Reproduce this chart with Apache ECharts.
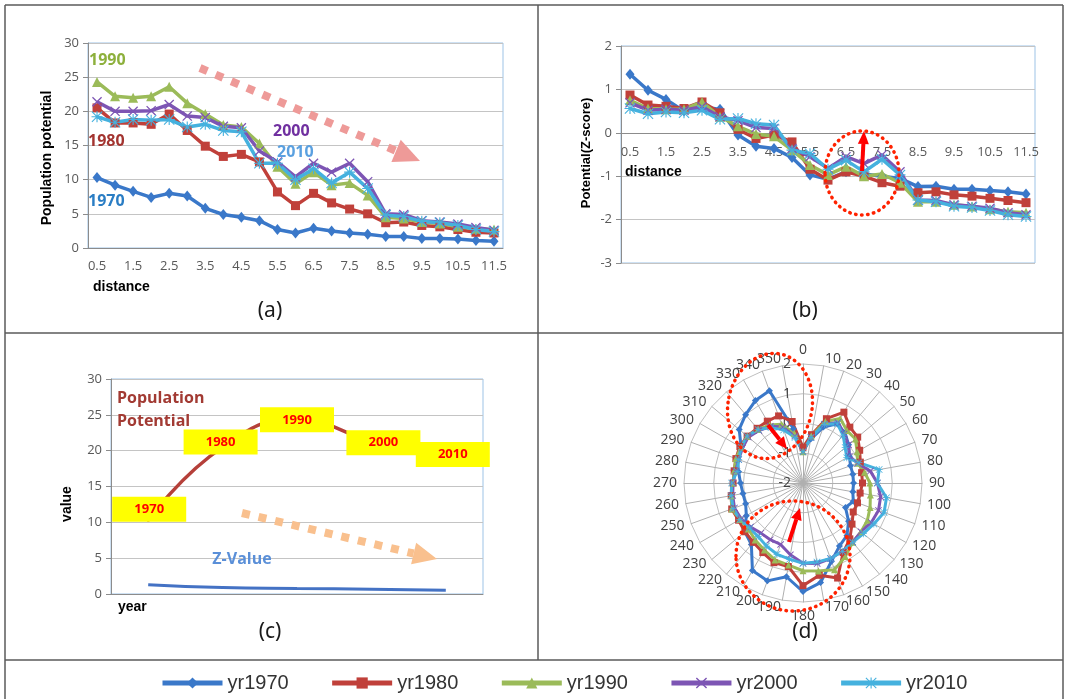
<!DOCTYPE html>
<html>
<head>
<meta charset="utf-8">
<script src="https://cdn.jsdelivr.net/npm/echarts@6/dist/echarts.min.js"></script>
<style>
html, body { margin: 0; padding: 0; background: #fff; }
#chart { width: 1068px; height: 699px; }
</style>
</head>
<body>
<div id="chart"></div>
<script>
// ---- data ----
var distances = ['0.5','1','1.5','2','2.5','3','3.5','4','4.5','5','5.5','6','6.5','7','7.5','8','8.5','9','9.5','10','10.5','11','11.5'];

// (a) population potential by distance
var pot1970 = [10.3, 9.2, 8.3, 7.4, 8.0, 7.6, 5.8, 4.9, 4.5, 4.0, 2.7, 2.2, 2.9, 2.5, 2.2, 2.0, 1.7, 1.7, 1.4, 1.4, 1.3, 1.1, 1.0];
var pot1980 = [20.5, 18.3, 18.3, 18.1, 19.6, 17.2, 14.9, 13.4, 13.7, 12.6, 8.2, 6.2, 8.0, 6.6, 5.7, 5.0, 3.7, 3.8, 3.3, 3.1, 2.7, 2.3, 2.2];
var pot1990 = [24.3, 22.2, 22.0, 22.2, 23.6, 21.2, 19.6, 18.0, 17.7, 15.3, 11.9, 9.4, 11.1, 9.2, 9.5, 7.7, 4.5, 4.3, 3.8, 3.6, 3.1, 2.8, 2.7];
var pot2000 = [21.4, 20.0, 20.0, 20.1, 21.0, 19.3, 19.1, 17.8, 17.6, 14.2, 12.6, 10.4, 12.4, 11.1, 12.4, 9.7, 5.0, 4.9, 4.0, 3.8, 3.5, 3.0, 2.6];
var pot2010 = [19.2, 18.4, 18.8, 18.7, 18.8, 17.7, 18.1, 17.2, 17.0, 12.4, 12.4, 10.0, 11.6, 9.5, 11.1, 8.7, 4.8, 4.6, 3.9, 3.7, 3.3, 2.7, 2.4];

// (b) z-scores by distance
var z1970 = [1.35, 0.98, 0.77, 0.5, 0.6, 0.54, -0.05, -0.31, -0.36, -0.57, -0.97, -1.07, -0.9, -0.95, -1.0, -1.05, -1.24, -1.23, -1.3, -1.3, -1.33, -1.36, -1.41];
var z1980 = [0.87, 0.64, 0.61, 0.56, 0.71, 0.46, 0.08, -0.13, -0.05, -0.21, -0.84, -1.09, -0.9, -1.0, -1.15, -1.23, -1.38, -1.36, -1.43, -1.46, -1.51, -1.56, -1.61];
var z1990 = [0.75, 0.56, 0.54, 0.54, 0.71, 0.37, 0.15, -0.03, -0.08, -0.4, -0.74, -0.97, -0.78, -1.0, -0.95, -1.15, -1.59, -1.59, -1.66, -1.7, -1.76, -1.82, -1.84];
var z2000 = [0.69, 0.52, 0.54, 0.52, 0.6, 0.37, 0.28, 0.12, 0.1, -0.36, -0.55, -0.82, -0.55, -0.71, -0.51, -0.9, -1.55, -1.56, -1.66, -1.69, -1.74, -1.84, -1.89];
var z2010 = [0.56, 0.44, 0.48, 0.46, 0.52, 0.31, 0.33, 0.21, 0.18, -0.4, -0.48, -0.84, -0.63, -0.9, -0.61, -0.97, -1.55, -1.59, -1.69, -1.72, -1.79, -1.89, -1.93];

// (c) by year
var years = ['1970', '1980', '1990', '2000', '2010'];
var yearPotential = [10.3, 20.5, 24.3, 21.4, 19.2];
var yearZ = [1.3, 0.9, 0.78, 0.68, 0.52];

// (d) z-score by direction (degrees)
var directions = ['0','10','20','30','40','50','60','70','80','90','100','110','120','130','140','150','160','170','180','190','200','210','220','230','240','250','260','270','280','290','300','310','320','330','340','350'];
var dir1970 = [-0.85, -0.5, 0.0, 0.3, 0.2, 0.0, -0.2, -0.3, -0.3, -0.3, -0.3, -0.2, -0.35, 0.0, 0.3, 0.45, 0.8, 1.4, 1.65, 1.2, 1.5, 1.4, 0.7, 0.55, 0.2, 0.05, 0.05, 0.1, 0.2, 0.35, 0.4, 0.8, 1.0, 1.2, 1.3, -0.15];
var dir1980 = [-0.8, -0.35, 0.3, 0.75, 0.45, 0.4, 0.2, 0.05, 0.0, 0.0, -0.05, -0.05, -0.05, 0.15, 0.45, 0.7, 1.4, 1.15, 1.45, 0.85, 0.85, 0.7, 0.6, 0.55, 0.5, 0.55, 0.45, 0.35, 0.35, 0.4, 0.45, 0.45, 0.4, 0.4, 0.4, 0.1];
var dir1990 = [-0.95, -0.4, 0.2, 0.5, 0.3, 0.3, 0.1, -0.05, 0.1, 0.25, 0.3, 0.4, 0.5, 0.55, 0.6, 0.85, 1.1, 1.0, 0.95, 0.8, 0.75, 0.6, 0.5, 0.4, 0.45, 0.55, 0.45, 0.35, 0.35, 0.4, 0.4, 0.45, 0.35, 0.25, 0.1, -0.3];
var dir2000 = [-0.95, -0.45, 0.1, 0.35, 0.15, 0.0, -0.2, -0.05, 0.3, 0.5, 0.65, 0.7, 0.65, 0.55, 0.6, 0.65, 0.7, 0.75, 0.7, 0.45, 0.2, 0.2, 0.2, 0.3, 0.4, 0.45, 0.4, 0.35, 0.3, 0.3, 0.35, 0.4, 0.3, 0.2, 0.0, -0.4];
var dir2010 = [-0.95, -0.45, 0.1, 0.3, 0.1, -0.15, -0.3, 0.0, 0.6, 0.5, 0.85, 0.9, 0.75, 0.65, 0.6, 0.65, 0.7, 0.7, 0.7, 0.6, 0.55, 0.45, 0.35, 0.35, 0.45, 0.5, 0.45, 0.4, 0.25, 0.3, 0.4, 0.45, 0.35, 0.15, -0.1, -0.45];

// ---- styling ----
var names = ['yr1970', 'yr1980', 'yr1990', 'yr2000', 'yr2010'];
var colors = ['#3A78C9', '#C0403A', '#9BBB59', '#7D55B4', '#45B1DE'];
var X_PATH = 'path://M0.9,0L10,9.1L9.1,10L0,0.9ZM9.1,0L10,0.9L0.9,10L0,9.1Z';
var STAR_PATH = 'path://M4.5,0L5.5,0L5.5,10L4.5,10ZM0,4.5L10,4.5L10,5.5L0,5.5ZM0.7,0L10,9.3L9.3,10L0,0.7ZM9.3,0L10,0.7L0.7,10L0,9.3Z';
var symbols = ['diamond', 'rect', 'triangle', X_PATH, STAR_PATH];
var symbolSizes = [[9, 11], 9, 10, 10, 11];
var potSets = [pot1970, pot1980, pot1990, pot2000, pot2010];
var zSets = [z1970, z1980, z1990, z2000, z2010];
var dirSets = [dir1970, dir1980, dir1990, dir2000, dir2010];
var LABEL_NUDGE = [[1, -11], [-2, -5], [0, 0], [12, 2], [7, -2]];

var TICK = { color: '#595959', fontSize: 13, fontFamily: 'Open Sans' };
var AXIS_GRAY = '#8C8C8C';
var GRID_GRAY = '#C4C4C4';

function catAxis(gi, data, labelShow, margin, offset) {
	return {
		gridIndex: gi, type: 'category', data: data, boundaryGap: true, offset: offset || 0,
		axisLine: { onZero: false, lineStyle: { color: AXIS_GRAY } },
		axisTick: { interval: 0, length: 5, lineStyle: { color: AXIS_GRAY } },
		axisLabel: Object.assign({ show: labelShow, interval: 1, margin: margin }, TICK),
		splitLine: { show: false }
	};
}
function valAxis(gi, min, max, step) {
	return {
		gridIndex: gi, type: 'value', min: min, max: max, interval: step,
		axisLine: { show: true, lineStyle: { color: AXIS_GRAY } },
		axisTick: { show: true, length: 5, lineStyle: { color: AXIS_GRAY } },
		axisLabel: Object.assign({ margin: 9 }, TICK),
		splitLine: { lineStyle: { color: GRID_GRAY } }
	};
}

var series = [];
names.forEach(function (n, i) {
	series.push({
		name: n, type: 'line', xAxisIndex: 0, yAxisIndex: 0, data: potSets[i],
		symbol: symbols[i], symbolSize: symbolSizes[i],
		lineStyle: { width: 3.5, color: colors[i] }, itemStyle: { color: colors[i] }
	});
});
names.forEach(function (n, i) {
	series.push({
		name: n, type: 'line', xAxisIndex: 1, yAxisIndex: 1, data: zSets[i],
		symbol: symbols[i], symbolSize: symbolSizes[i],
		lineStyle: { width: 3.5, color: colors[i] }, itemStyle: { color: colors[i] }
	});
});
series.push({
	name: 'Population Potential', type: 'line', xAxisIndex: 2, yAxisIndex: 2, smooth: true,
	showSymbol: true, symbol: 'circle', symbolSize: 3,
	lineStyle: { width: 3.5, color: '#B5403A' }, itemStyle: { color: '#B5403A' },
	data: yearPotential.map(function (v, i) {
		return { value: v, label: { offset: LABEL_NUDGE[i] } };
	}),
	label: {
		show: true, position: 'inside', formatter: function (p) { return p.name; },
		backgroundColor: '#FFFF00', color: '#FF0000', fontWeight: 'bold', fontSize: 13,
		fontFamily: 'Open Sans', width: 74, height: 25, lineHeight: 25, align: 'center'
	},
	z: 5
});
series.push({
	name: 'Z-Value', type: 'line', xAxisIndex: 2, yAxisIndex: 2, smooth: true,
	symbol: 'none', lineStyle: { width: 3, color: '#4472C4' }, data: yearZ
});

// radar runs counter-clockwise, so feed directions in reverse to get a clockwise compass
var order = [0];
for (var k = directions.length - 1; k >= 1; k--) order.push(k);
var indicator = order.map(function (i) { return { name: directions[i], min: -2, max: 2 }; });
indicator[0].axisLabel = { show: true, color: '#404040', fontSize: 14, fontFamily: 'Open Sans', margin: 12 };

names.forEach(function (n, i) {
	series.push({
		name: n, type: 'radar', radarIndex: 0,
		symbol: symbols[i], symbolSize: 7,
		lineStyle: { width: 3, color: colors[i] }, itemStyle: { color: colors[i] },
		data: [{ name: n, value: order.map(function (j) { return dirSets[i][j]; }) }]
	});
});

// ---- annotations ----
function arrow(x1, y1, x2, y2, color, width, headLen, headHalf, dash) {
	var dx = x2 - x1, dy = y2 - y1, len = Math.sqrt(dx * dx + dy * dy);
	var ux = dx / len, uy = dy / len;
	var bx = x2 - ux * headLen, by = y2 - uy * headLen;
	return [
		{ type: 'line', z: 100, shape: { x1: x1, y1: y1, x2: bx, y2: by },
		  style: { stroke: color, lineWidth: width, lineDash: dash || null } },
		{ type: 'polygon', z: 100,
		  shape: { points: [[x2, y2], [bx - uy * headHalf, by + ux * headHalf], [bx + uy * headHalf, by - ux * headHalf]] },
		  style: { fill: color } }
	];
}
function txt(x, y, s, font, fill, align, rot) {
	return { type: 'text', x: x, y: y, rotation: rot || 0, z: 100,
		style: { text: s, font: font, fill: fill, align: align || 'left', verticalAlign: 'middle' } };
}
function rule(x1, y1, x2, y2) {
	return { type: 'line', z: 100, shape: { x1: x1, y1: y1, x2: x2, y2: y2 }, style: { stroke: '#5A5A5A', lineWidth: 1.5 } };
}
function dotted(cx, cy, rx, ry, rot) {
	return { type: 'ellipse', x: cx, y: cy, rotation: rot || 0, z: 100,
		shape: { cx: 0, cy: 0, rx: rx, ry: ry },
		style: { fill: 'none', stroke: '#FF2200', lineWidth: 3.5, lineDash: [0.5, 5.5], lineCap: 'round' } };
}

var BOLD = 'bold 14px "Liberation Sans", Arial, sans-serif';
var NOTE = 'bold 16px "Open Sans", sans-serif';
var PANEL = '21px "Noto Sans", sans-serif';
var graphics = [
	rule(5, 5, 1063, 5), rule(5, 5, 5, 699), rule(1063, 5, 1063, 699),
	rule(5, 333, 1063, 333), rule(5, 660, 1063, 660), rule(538, 5, 538, 660),
	txt(270, 311, '(a)', PANEL, '#1A1A1A', 'center'),
	txt(805, 311, '(b)', PANEL, '#1A1A1A', 'center'),
	txt(270, 632, '(c)', PANEL, '#1A1A1A', 'center'),
	txt(805, 632, '(d)', PANEL, '#1A1A1A', 'center'),
	// axis titles
	txt(47, 158, 'Population potential', BOLD, '#000', 'center', Math.PI / 2),
	txt(93, 287, 'distance', BOLD, '#000'),
	txt(586, 153, 'Potential(Z-score)', 'bold 13px "Liberation Sans", Arial, sans-serif', '#000', 'center', Math.PI / 2),
	txt(625, 172, 'distance', BOLD, '#000'),
	txt(67, 504, 'value', BOLD, '#000', 'center', Math.PI / 2),
	txt(118, 607, 'year', BOLD, '#000'),
	// panel (a) notes
	txt(89, 60, '1990', NOTE, '#8DB03C'),
	txt(88, 141, '1980', NOTE, '#A33430'),
	txt(88, 201, '1970', NOTE, '#2A7DC4'),
	txt(273, 131, '2000', NOTE, '#7030A0'),
	txt(277, 152, '2010', NOTE, '#5AA0E0'),
	// panel (c) notes
	txt(117, 398, 'Population', NOTE, '#A23A33'),
	txt(117, 421, 'Potential', NOTE, '#A23A33'),
	txt(242, 559, 'Z-Value', NOTE, '#5A8FD8', 'center'),
	dotted(862, 173, 37, 42),
	dotted(770, 406, 42, 53, -0.2),
	dotted(793, 556, 57, 55)
].concat(
	arrow(200, 68, 420, 161, '#EE9A98', 8, 26, 12, [8, 9]),
	arrow(242, 513, 437, 559, '#F9C08E', 8, 24, 11, [8, 9]),
	arrow(862, 171, 864, 131, '#FF0000', 4, 13, 5.5),
	arrow(768, 425, 787, 449, '#FF0000', 4, 12, 5.5),
	arrow(789, 542, 800, 508, '#FF0000', 4, 12, 5.5)
);

var chart = echarts.init(document.getElementById('chart'));
chart.setOption({
	animation: false,
	color: colors,
	legend: {
		data: names, top: 668, left: 155, itemGap: 41, itemWidth: 60, itemHeight: 14,
		lineStyle: { width: 5 },
		textStyle: { fontSize: 20, color: '#333', fontFamily: '"Liberation Sans", Arial, sans-serif' }
	},
	grid: [
		{ left: 88, top: 43, width: 415, height: 205, show: true, borderColor: '#9DC3E6', borderWidth: 1 },
		{ left: 621, top: 46, width: 414, height: 217, show: true, borderColor: '#9DC3E6', borderWidth: 1 },
		{ left: 111, top: 379, width: 372, height: 215, show: true, borderColor: '#9DC3E6', borderWidth: 1 }
	],
	// panel (b) crosses at z = 0, i.e. 2/5 of the way down its 217px plot
	xAxis: [catAxis(0, distances, true, 12), catAxis(1, distances, true, 13, -130.2), catAxis(2, years, false, 8)],
	yAxis: [valAxis(0, 0, 30, 5), valAxis(1, -3, 2, 1), valAxis(2, 0, 30, 5)],
	radar: {
		center: [803, 483], radius: 119, startAngle: 90, splitNumber: 4,
		indicator: indicator, nameGap: 7,
		axisName: { color: '#404040', fontSize: 14, fontFamily: 'Open Sans' },
		splitLine: { lineStyle: { color: '#BFBFBF' } },
		splitArea: { show: false },
		axisLine: { lineStyle: { color: '#AFAFAF' } },
		axisLabel: { show: false }
	},
	series: series,
	graphic: graphics
});
</script>
</body>
</html>
